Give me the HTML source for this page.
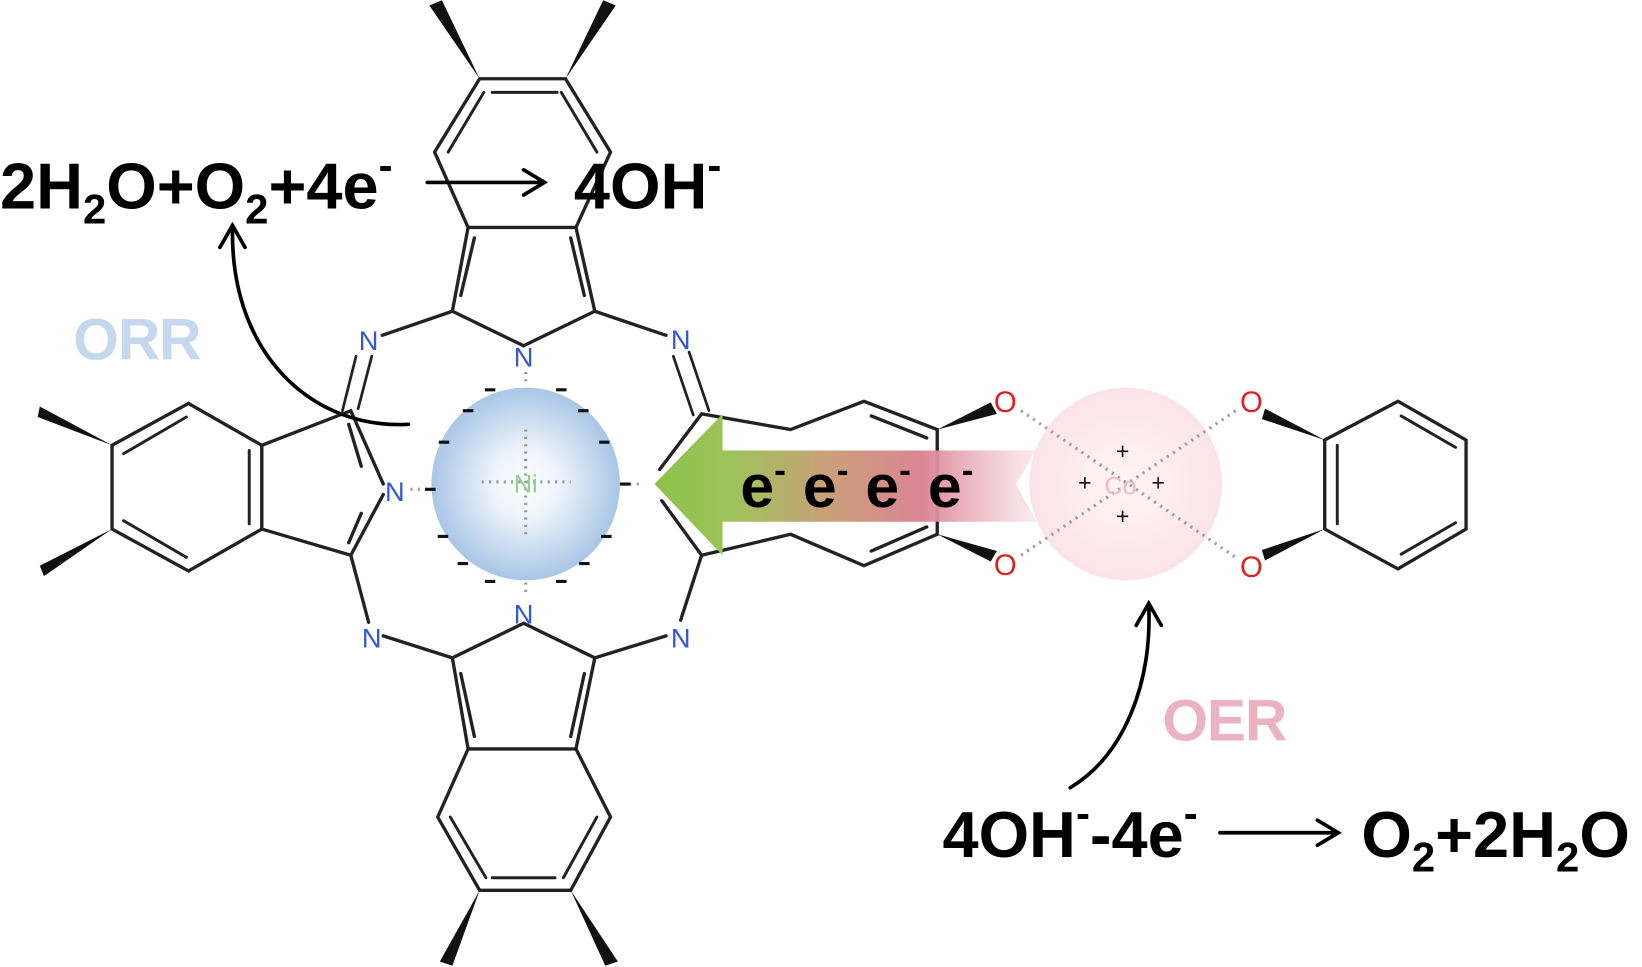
<!DOCTYPE html>
<html><head><meta charset="utf-8"><style>
html,body{margin:0;padding:0;background:#fff;width:1642px;height:967px;overflow:hidden}
svg{display:block}
text{font-family:"Liberation Sans",Arial,sans-serif}
</style></head><body>
<svg width="1642" height="967" viewBox="0 0 1568 923" xmlns="http://www.w3.org/2000/svg">
<defs>
<radialGradient id="ni" cx="50%" cy="50%" r="50%">
<stop offset="0" stop-color="#ffffff"/><stop offset="0.35" stop-color="#eef4fb"/><stop offset="1" stop-color="#a9c6e6"/>
</radialGradient>
<radialGradient id="co" cx="50%" cy="50%" r="50%">
<stop offset="0" stop-color="#fff4f6"/><stop offset="1" stop-color="#fbe4e8"/>
</radialGradient>
<linearGradient id="arr" x1="625" y1="0" x2="990" y2="0" gradientUnits="userSpaceOnUse">
<stop offset="0" stop-color="#8cc24a"/><stop offset="0.2" stop-color="#9ec35a"/><stop offset="0.45" stop-color="#c9a07a"/><stop offset="0.7" stop-color="#dc8595"/><stop offset="1" stop-color="#f6dde2" stop-opacity="0.6"/>
</linearGradient>
</defs>
<g stroke="#222" stroke-width="3.2" fill="none" stroke-linecap="round">
<path d="M500,330 L432,297 L447,217 L550,217 L568,297 L500,330"/>
<path d="M440,282 L453,227 M558,282 L545,227"/>
<path d="M447,217 L415,145 L458,75 L540,75 L583,145 L550,217"/>
<path d="M428,145 L462,88 M470,88 L532,88 M570,145 L536,88" stroke-width="2.8"/>
<path d="M432,297 L365,320 M568,297 L636,320"/>
<path d="M500,595 L432,628 L447,715 L550,715 L568,628 L500,595"/>
<path d="M440,643 L453,703 M558,643 L545,703"/>
<path d="M447,715 L418,780 L458,850 L545,850 L583,780 L550,715"/>
<path d="M430,780 L464,838 M470,838 L530,838 M570,780 L538,838" stroke-width="2.8"/>
<path d="M432,628 L366,607 M568,628 L636,607"/>
<path d="M366,462 L335,392 L250,425 L250,505 L335,530 L366,472"/>
<path d="M345,445 L333,405 M345,490 L333,518"/>
<path d="M250,425 L180,385 L107,425 L107,505 L180,545 L250,505"/>
<path d="M118,433 L178,398 M118,497 L178,532 M238,430 L238,500" stroke-width="2.8"/>
<path d="M335,530 L352,594"/>
<path d="M342,390 L355,340 M327,392 L340,340" stroke-width="2.6"/>
<path d="M630,448 L670,395 L755,410 L825,383 L895,410 L895,510 L825,540 L755,510 L670,530 L632,478"/>
<path d="M670,530 L650,592"/>
<path d="M662,396 L643,340 M677,392 L658,336" stroke-width="2.6"/>
<path d="M832,397 L885,418 M832,526 L885,503"/>
<path d="M1265,420 L1335,383 L1400,420 L1400,505 L1335,543 L1265,505 Z"/>
<path d="M1277,425 L1277,500 M1338,397 L1390,427 M1338,529 L1390,499" stroke-width="2.8"/>
</g>
<g fill="#111">
<polygon points="458,75 410,5 422,0"/><polygon points="540,75 576,0 588,5"/>
<polygon points="458,850 420,918 432,922"/><polygon points="545,850 578,922 590,918"/>
<polygon points="107,425 38,388 36,398"/><polygon points="107,505 38,540 42,550"/>
<polygon points="895,410 946,384 952,395"/><polygon points="895,510 946,536 952,526"/>
<polygon points="1265,420 1208,390 1205,400"/><polygon points="1265,505 1208,535 1205,525"/>
</g>
<g fill="#3355e0" font-size="26" text-anchor="middle">
<text x="500" y="350">N</text><text x="377" y="478">N</text><text x="500" y="595">N</text>
<text x="352" y="334">N</text><text x="650" y="333">N</text><text x="355" y="618">N</text><text x="650" y="618">N</text>
</g>
<ellipse cx="502" cy="462" rx="90" ry="92" fill="url(#ni)"/>
<g stroke="#999" stroke-width="3" stroke-dasharray="2 5">
<line x1="502" y1="355" x2="502" y2="368"/><line x1="502" y1="556" x2="502" y2="570"/>
<line x1="392" y1="467" x2="410" y2="467"/><line x1="594" y1="462" x2="612" y2="462"/>
<line x1="502" y1="410" x2="502" y2="510"/><line x1="460" y1="460" x2="545" y2="460"/>
</g>
<text x="502" y="470" font-size="24" fill="#8cd08c" text-anchor="middle">Ni</text>
<g stroke="#111" stroke-width="3">
<path d="M463,372h10M531,372h10M442,392h10M552,392h10M419,422h10M572,422h10M418,512h10M574,512h10M437,538h10M553,538h10M463,555h10M531,555h10M406,467h10M592,462h10"/>
</g>
<circle cx="1075" cy="462" r="92" fill="url(#co)"/>
<g stroke="#999" stroke-width="3" stroke-dasharray="2 5">
<line x1="975" y1="392" x2="1180" y2="532"/><line x1="975" y1="530" x2="1180" y2="392"/>
</g>
<text x="1070" y="472" font-size="24" fill="#f0b8c4" text-anchor="middle">Co</text>
<g font-size="22" fill="#111" text-anchor="middle"><text x="1072" y="438">+</text><text x="1036" y="468">+</text><text x="1106" y="468">+</text><text x="1072" y="500">+</text></g>
<g fill="#e02020" font-size="28" text-anchor="middle"><text x="960" y="393">O</text><text x="960" y="549">O</text><text x="1195" y="393">O</text><text x="1195" y="551">O</text></g>
<polygon points="625,462 690,395 690,430 990,430 970,462 990,498 690,498 690,530" fill="url(#arr)"/>
<text x="707" y="484" font-size="58" font-weight="bold" fill="#000">e<tspan dy="-24" font-size="34">-</tspan><tspan dy="24"> e</tspan><tspan dy="-24" font-size="34">-</tspan><tspan dy="24"> e</tspan><tspan dy="-24" font-size="34">-</tspan><tspan dy="24"> e</tspan><tspan dy="-24" font-size="34">-</tspan></text>
<g font-weight="bold" fill="#000" font-size="62">
<text x="0" y="199">2H<tspan font-size="40" dy="14">2</tspan><tspan dy="-14">O+O</tspan><tspan font-size="40" dy="14">2</tspan><tspan dy="-14">+4e</tspan><tspan font-size="40" dy="-28">-</tspan></text>
<text x="548" y="199">4OH<tspan font-size="40" dy="-28">-</tspan></text>
<text x="900" y="818">4OH<tspan font-size="40" dy="-28">-</tspan><tspan dy="28">-4e</tspan><tspan font-size="40" dy="-28">-</tspan></text>
<text x="1300" y="818">O<tspan font-size="40" dy="14">2</tspan><tspan dy="-14">+2H</tspan><tspan font-size="40" dy="14">2</tspan><tspan dy="-14">O</tspan></text>
</g>
<text x="70" y="343" font-size="56" font-weight="bold" fill="#c6d8ee" letter-spacing="-1">ORR</text>
<text x="1110" y="707" font-size="56" font-weight="bold" fill="#eab3bf" letter-spacing="-1">OER</text>
<g stroke="#000" stroke-width="3.5" fill="none" stroke-linecap="round">
<path d="M408,174 L520,174 M500,162 L520,174 L500,186"/>
<path d="M1165,795 L1278,795 M1258,783 L1278,795 L1258,807"/>
<path d="M390,405 C300,410 220,340 222,218"/>
<path d="M210,236 L222,215 L234,236"/>
<path d="M1022,752 C1075,720 1100,650 1097,578"/>
<path d="M1085,597 L1097,576 L1109,597"/>
</g>
</svg>
</body></html>
